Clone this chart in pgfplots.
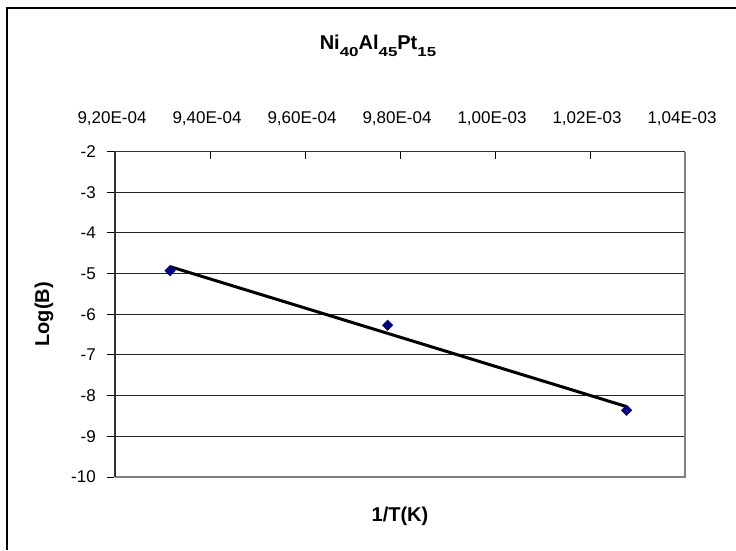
\documentclass[border=0pt]{standalone}
\usepackage{fontspec}
\setmainfont{Liberation Sans}
\usepackage{pgfplots}
\pgfplotsset{compat=1.18}
\definecolor{navyc}{RGB}{0,0,128}
\definecolor{framegray}{RGB}{128,128,128}
\begin{document}
\begin{tikzpicture}[x=1pt,y=1pt]
\path[use as bounding box] (0,0) rectangle (736,550);
\draw[black, line width=1.5pt] (7,0) -- (7,542) -- (736,542);
\begin{axis}[
  at={(115pt,73pt)}, anchor=south west,
  scale only axis, width=570pt, height=325.5pt,
  xmin=9.2e-4, xmax=1.04e-3, ymin=-10, ymax=-2,
  clip=false,
  axis line style={draw=none},
  xtick={9.2e-4,9.4e-4,9.6e-4,9.8e-4,1.0e-3,1.02e-3,1.04e-3},
  xticklabels={{9,20E-04},{9,40E-04},{9,60E-04},{9,80E-04},{1,00E-03},{1,02E-03},{1,04E-03}},
  scaled x ticks=false,
  ytick={-10,-9,-8,-7,-6,-5,-4,-3,-2},
  yticklabels={-10,-9,-8,-7,-6,-5,-4,-3,-2},
  xtick pos=right, xticklabel pos=right,
  ytick pos=left, yticklabel pos=left,
  tick align=inside,
  major tick length=7pt,
  tick style={black, line width=1pt},
  ytick style={xshift=-8pt},
  ymajorgrids,
  major grid style={black!85, line width=1pt},
  tick label style={font=\fontsize{17}{20}\selectfont, inner sep=0pt},
  xticklabel style={anchor=base, yshift=28.5pt, xshift=-3pt},
  yticklabel style={anchor=east, xshift=-19pt},
  xlabel={\bfseries 1/T(K)},
  ylabel={\bfseries Log(B)},
  label style={font=\fontsize{20}{24}\selectfont},
  xlabel style={at={(axis description cs:0.5,-0.1352)}, anchor=base, inner sep=0pt},
  ylabel style={at={(axis description cs:-0.1246,0.5)}, anchor=center, inner sep=0pt},
]
\addplot[only marks, color=navyc, mark=square*, mark size=3.75pt,
  mark options={rotate=45, fill=navyc, draw=navyc}]
  coordinates {(9.316e-4,-4.93) (9.774e-4,-6.27) (1.0277e-3,-8.36)};
\addplot[black, line width=3pt, no marks]
  coordinates {(9.316e-4,-4.83) (1.0277e-3,-8.27)};
\draw[framegray, line width=2pt] (rel axis cs:0,0) -- (rel axis cs:1,0) -- (rel axis cs:1,1);
\draw[black!80, line width=1.5pt] (rel axis cs:0,0) -- (rel axis cs:0,1) -- (rel axis cs:1,1);
\end{axis}
\node[anchor=base, inner sep=0pt, font=\bfseries\fontsize{20}{24}\selectfont] at (378,500.7)
  {Ni\raisebox{-7.4pt}{\scalebox{1.3}[1]{\fontsize{13}{15}\selectfont 40}}Al\raisebox{-7.4pt}{\scalebox{1.3}[1]{\fontsize{13}{15}\selectfont 45}}Pt\raisebox{-7.4pt}{\scalebox{1.3}[1]{\fontsize{13}{15}\selectfont 15}}};
\end{tikzpicture}
\end{document}
